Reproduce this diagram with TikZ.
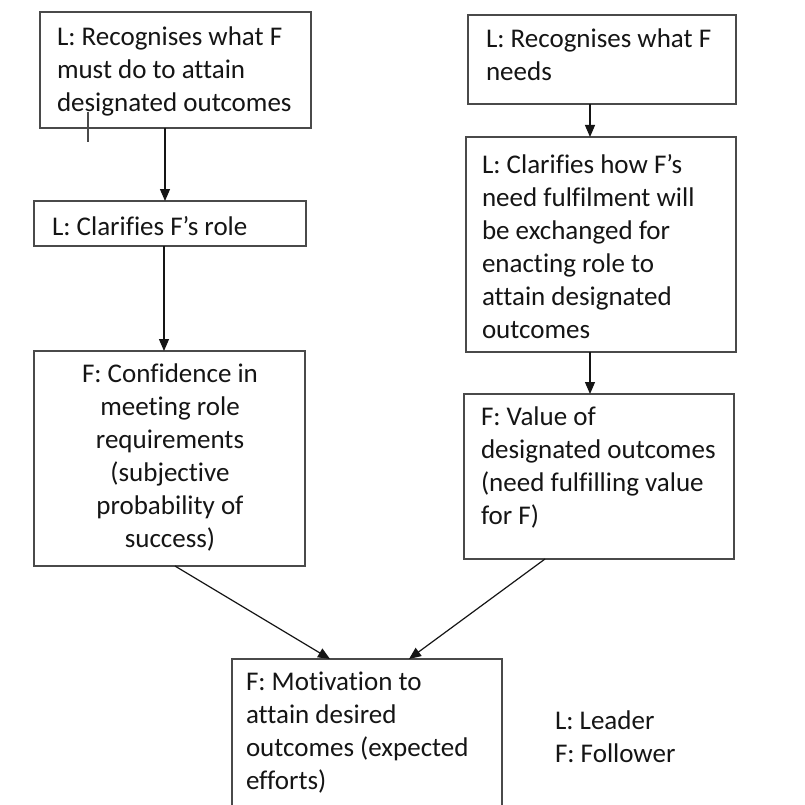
\documentclass[tikz,border=0pt]{standalone}
\usepackage{fontspec}
\setmainfont{Carlito}[Ligatures={NoCommon}]
\usetikzlibrary{arrows.meta,fit,calc}
\definecolor{edgegrey}{HTML}{4A4A4A}
\definecolor{inkc}{HTML}{151515}
\tikzset{
  box/.style={draw=edgegrey, line width=1.6pt, inner sep=0pt, outer sep=0pt, rectangle},
  txt/.style={inner sep=0pt, outer sep=0pt, text=inkc, align=left, anchor=north west,
    font=\fontsize{27}{33}\selectfont},
  ctxt/.style={txt, align=center, anchor=north},
  arr/.style={draw=inkc, line width=1.2pt, -{Triangle[length=12pt,width=10pt]}},
}
\begin{document}
\begin{tikzpicture}[x=1pt,y=-1pt]
\clip (0,0) rectangle (805,805);
\fill[white] (0,0) rectangle (805,805);
% boxes
\node[box, fit={(40,12) (311,128)}] (b1) {};
\node[box, fit={(34,201) (306,246)}] (b2) {};
\node[box, fit={(34,351) (305,566)}] (b3) {};
\node[box, fit={(468,15) (736,104)}] (b4) {};
\node[box, fit={(466,137) (736,352)}] (b5) {};
\node[box, fit={(464,394) (734,559)}] (b6) {};
\node[box, fit={(232,659) (502,840)}] (b7) {};
% texts
\node[txt] (t1) at (57,27) {L: Recognises what F\\must do to attain\\designated outcomes};
\node[txt] (t2) at (52,216) {L: Clarifies F’s role};
\node[ctxt] (t3) at (170,364) {F: Confidence in\\meeting role\\requirements\\(subjective\\probability of\\success)};
\node[txt] (t4) at (486,29) {L: Recognises what F\\needs};
\node[txt] (t5) at (482,154) {L: Clarifies how F’s\\need fulfilment will\\be exchanged for\\enacting role to\\attain designated\\outcomes};
\node[txt] (t6) at (481,407) {F: Value of\\designated outcomes\\(need fulfilling value\\for F)};
\node[txt] (t7) at (246,672) {F: Motivation to\\attain desired\\outcomes (expected\\efforts)};
\node[txt] (leg) at (555,711) {L: Leader\\F: Follower};
% stray tick
\draw[edgegrey, line width=1.2pt] (88,112) -- (88,142);
% connectors
\draw[arr] ([xshift=125pt]b1.south west) -- ([xshift=131pt]b2.north west);
\draw[arr] ([xshift=130pt]b2.south west) -- ([xshift=130pt]b3.north west);
\draw[arr] ([xshift=122pt]b4.south west) -- ([xshift=124pt]b5.north west);
\draw[arr] ([xshift=124pt]b5.south west) -- ([xshift=126pt]b6.north west);
\draw[arr] ([xshift=141pt]b3.south west) -- ([xshift=98pt]b7.north west);
\draw[arr] ([xshift=81pt]b6.south west) -- ([xshift=177pt]b7.north west);
\end{tikzpicture}
\end{document}
